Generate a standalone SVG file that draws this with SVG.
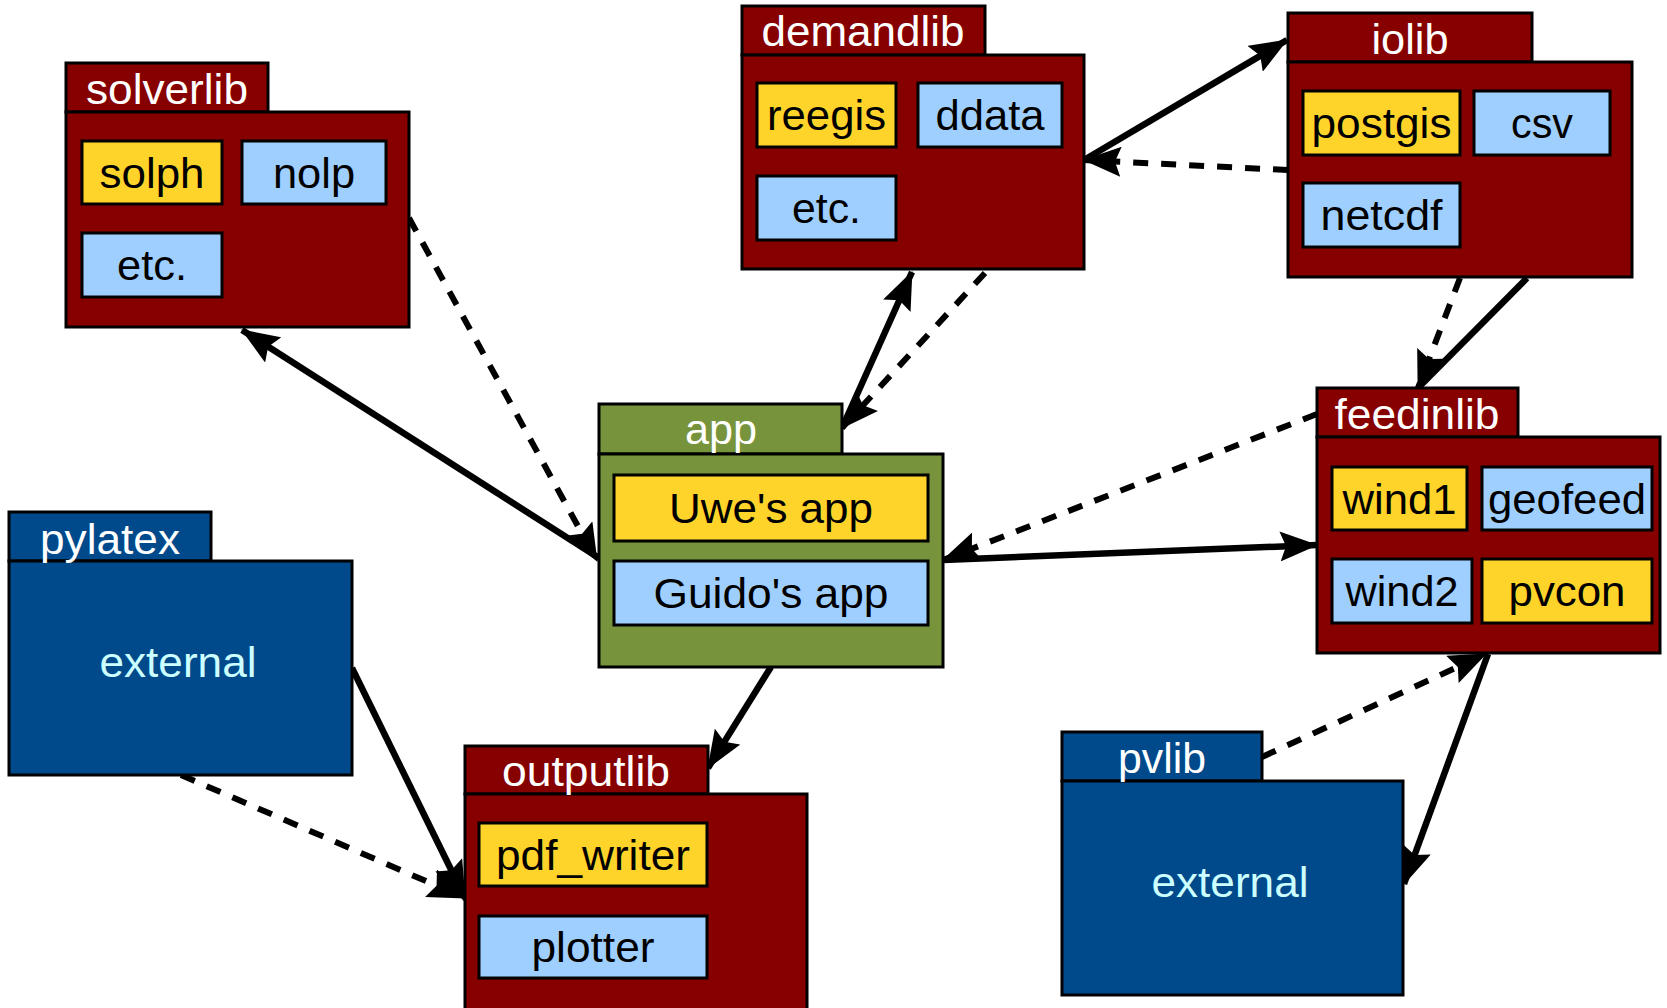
<svg xmlns="http://www.w3.org/2000/svg" width="1667" height="1008" viewBox="0 0 1667 1008">
<style>
.red{fill:#870000;stroke:#000;stroke-width:3}
.grn{fill:#77933c;stroke:#000;stroke-width:3}
.blu{fill:#004a8c;stroke:#000;stroke-width:3}
.yel{fill:#ffd42a;stroke:#000;stroke-width:3}
.lbl{fill:#9fcfff;stroke:#000;stroke-width:3}
text{font-family:"Liberation Sans",Arial,sans-serif;font-size:43px;text-anchor:middle}
.tab{fill:#fff}
.in{fill:#000}
.ext{fill:#ccffff}
.s{fill:none;stroke:#000;stroke-width:6.5}
.d{fill:none;stroke:#000;stroke-width:6;stroke-dasharray:15 13}
</style>
<defs>
<marker id="ah" viewBox="0 0 38 30" refX="37" refY="15" markerWidth="38" markerHeight="30" markerUnits="userSpaceOnUse" orient="auto">
<path d="M0,0 L38,15 L0,30 L6,15 z" fill="#000"/>
</marker>
</defs>
<rect width="1667" height="1008" fill="#fff"/>

<g id="connectors">
<line class="s" x1="599" y1="558" x2="242" y2="330" marker-end="url(#ah)"/>
<line class="d" x1="409" y1="218" x2="597" y2="561" marker-end="url(#ah)"/>
<line class="s" x1="842" y1="428" x2="912" y2="272" marker-end="url(#ah)"/>
<line class="d" x1="985" y1="273" x2="842" y2="428" marker-end="url(#ah)"/>
<line class="s" x1="1084" y1="160" x2="1287" y2="40" marker-end="url(#ah)"/>
<line class="d" x1="1288" y1="170" x2="1084" y2="160" marker-end="url(#ah)"/>
<line class="d" x1="1460" y1="278" x2="1418" y2="388" marker-end="url(#ah)"/>
<line class="s" x1="1527" y1="278" x2="1418" y2="388"/>
<line class="s" x1="943" y1="560" x2="1317" y2="545" marker-end="url(#ah)"/>
<line class="d" x1="1317" y1="414" x2="943" y2="560" marker-end="url(#ah)"/>
<line class="s" x1="771" y1="667" x2="708" y2="768" marker-end="url(#ah)"/>
<line class="s" x1="352" y1="668" x2="465" y2="898" marker-end="url(#ah)"/>
<line class="d" x1="181" y1="775" x2="465" y2="898" marker-end="url(#ah)"/>
<line class="d" x1="1262" y1="757" x2="1486" y2="654" marker-end="url(#ah)"/>
<line class="s" x1="1488" y1="654" x2="1404" y2="884" marker-end="url(#ah)"/>
</g>

<g id="solverlib">
<rect class="red" x="66" y="63" width="202" height="49"/>
<rect class="red" x="66" y="112" width="343" height="215"/>
<rect class="yel" x="82" y="141" width="140" height="63"/>
<rect class="lbl" x="242" y="141" width="144" height="63"/>
<rect class="lbl" x="82" y="233" width="140" height="64"/>
<text class="tab" x="167" y="104" textLength="162" lengthAdjust="spacingAndGlyphs">solverlib</text>
<text class="in" x="152" y="188" textLength="105" lengthAdjust="spacingAndGlyphs">solph</text>
<text class="in" x="314" y="188" textLength="82" lengthAdjust="spacingAndGlyphs">nolp</text>
<text class="in" x="152" y="280" textLength="70" lengthAdjust="spacingAndGlyphs">etc.</text>
</g>

<g id="demandlib">
<rect class="red" x="742" y="6" width="243" height="49"/>
<rect class="red" x="742" y="55" width="342" height="214"/>
<rect class="yel" x="757" y="83" width="139" height="64"/>
<rect class="lbl" x="918" y="83" width="144" height="64"/>
<rect class="lbl" x="757" y="176" width="139" height="64"/>
<text class="tab" x="863" y="46" textLength="203" lengthAdjust="spacingAndGlyphs">demandlib</text>
<text class="in" x="826.5" y="130" textLength="119" lengthAdjust="spacingAndGlyphs">reegis</text>
<text class="in" x="990" y="130" textLength="109" lengthAdjust="spacingAndGlyphs">ddata</text>
<text class="in" x="826.5" y="223" textLength="69" lengthAdjust="spacingAndGlyphs">etc.</text>
</g>

<g id="iolib">
<rect class="red" x="1288" y="13" width="244" height="49"/>
<rect class="red" x="1288" y="62" width="344" height="215"/>
<rect class="yel" x="1303" y="91" width="157" height="64"/>
<rect class="lbl" x="1474" y="91" width="136" height="64"/>
<rect class="lbl" x="1303" y="183" width="157" height="64"/>
<text class="tab" x="1410" y="54" textLength="77" lengthAdjust="spacingAndGlyphs">iolib</text>
<text class="in" x="1381.5" y="138" textLength="140" lengthAdjust="spacingAndGlyphs">postgis</text>
<text class="in" x="1542" y="138" textLength="62" lengthAdjust="spacingAndGlyphs">csv</text>
<text class="in" x="1381.5" y="230" textLength="122" lengthAdjust="spacingAndGlyphs">netcdf</text>
</g>

<g id="app">
<rect class="grn" x="599" y="404" width="243" height="50"/>
<rect class="grn" x="599" y="454" width="344" height="213"/>
<rect class="yel" x="614" y="475" width="314" height="66"/>
<rect class="lbl" x="614" y="561" width="314" height="64"/>
<text class="tab" x="721" y="444" textLength="72" lengthAdjust="spacingAndGlyphs">app</text>
<text class="in" x="771" y="523" textLength="204" lengthAdjust="spacingAndGlyphs">Uwe's app</text>
<text class="in" x="771" y="608" textLength="235" lengthAdjust="spacingAndGlyphs">Guido's app</text>
</g>

<g id="feedinlib">
<rect class="red" x="1317" y="388" width="201" height="49"/>
<rect class="red" x="1317" y="437" width="343" height="216"/>
<rect class="yel" x="1332" y="467" width="135" height="63"/>
<rect class="lbl" x="1482" y="467" width="170" height="63"/>
<rect class="lbl" x="1332" y="559" width="140" height="64"/>
<rect class="yel" x="1482" y="559" width="170" height="64"/>
<text class="tab" x="1417" y="429" textLength="165" lengthAdjust="spacingAndGlyphs">feedinlib</text>
<text class="in" x="1399.5" y="514" textLength="114" lengthAdjust="spacingAndGlyphs">wind1</text>
<text class="in" x="1567" y="514" textLength="158" lengthAdjust="spacingAndGlyphs">geofeed</text>
<text class="in" x="1402" y="606" textLength="113" lengthAdjust="spacingAndGlyphs">wind2</text>
<text class="in" x="1567" y="606" textLength="117" lengthAdjust="spacingAndGlyphs">pvcon</text>
</g>

<g id="pylatex">
<rect class="blu" x="9" y="512" width="202" height="49"/>
<rect class="blu" x="9" y="561" width="343" height="214"/>
<text class="tab" x="110" y="554" textLength="140" lengthAdjust="spacingAndGlyphs">pylatex</text>
<text class="ext" x="178" y="677" textLength="157" lengthAdjust="spacingAndGlyphs">external</text>
</g>

<g id="outputlib">
<rect class="red" x="465" y="746" width="243" height="48"/>
<rect class="red" x="465" y="794" width="342" height="220"/>
<rect class="yel" x="479" y="823" width="228" height="63"/>
<rect class="lbl" x="479" y="916" width="228" height="62"/>
<text class="tab" x="586" y="786" textLength="168" lengthAdjust="spacingAndGlyphs">outputlib</text>
<text class="in" x="593" y="870" textLength="194" lengthAdjust="spacingAndGlyphs">pdf_writer</text>
<text class="in" x="593" y="962" textLength="123" lengthAdjust="spacingAndGlyphs">plotter</text>
</g>

<g id="pvlib">
<rect class="blu" x="1062" y="732" width="200" height="49"/>
<rect class="blu" x="1062" y="781" width="341" height="214"/>
<text class="tab" x="1162" y="773" textLength="88" lengthAdjust="spacingAndGlyphs">pvlib</text>
<text class="ext" x="1230" y="897" textLength="157" lengthAdjust="spacingAndGlyphs">external</text>
</g>
</svg>
